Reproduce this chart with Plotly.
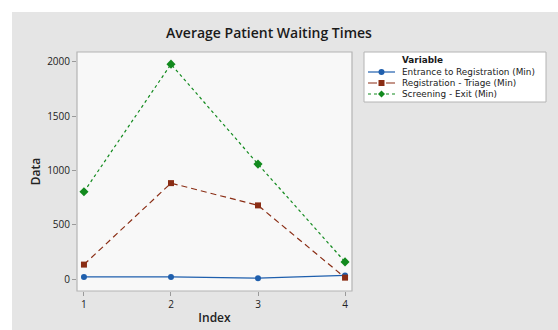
import plotly.graph_objects as go

# Waiting-time data per index
index = [1, 2, 3, 4]
entrance_to_registration = [22, 22, 10, 35]
registration_triage = [135, 885, 680, 15]
screening_exit = [805, 1980, 1060, 160]

series_names = [
    "Entrance to Registration (Min)",
    "Registration - Triage (Min)",
    "Screening - Exit (Min)",
]
y_ticks = [0, 500, 1000, 1500, 2000]

BLUE = "#1f5fad"
BROWN = "#8a2d14"
GREEN = "#128a1e"
FONT = "Open Sans"
LEGEND_FONT = "DejaVu Sans"

W, H = 558, 330
L, R, T, B = 77, 206, 52, 39
PW, PH = W - L - R, H - T - B


def px(x):
    """Horizontal pixel position -> paper coordinate."""
    return (x - L) / PW


def py(y):
    """Vertical pixel position (from top) -> paper coordinate."""
    return (H - B - y) / PH


styles = [
    dict(color=BLUE, dash="solid", legend_dash="solid", symbol="circle", size=6),
    dict(color=BROWN, dash="6px,4px", legend_dash="dash", symbol="square", size=6),
    dict(color=GREEN, dash="3px,3px", legend_dash="dot", symbol="diamond", size=7),
]
values = [entrance_to_registration, registration_triage, screening_exit]

fig = go.Figure()
for name, vals, st in zip(series_names, values, styles):
    fig.add_trace(go.Scatter(
        x=index, y=vals, name=name, mode="lines+markers",
        line=dict(color=st["color"], width=1.2, dash=st["dash"]),
        marker=dict(symbol=st["symbol"], size=st["size"], color=st["color"]),
        showlegend=False,
    ))

# grey outer frame and the light plot panel
fig.add_shape(type="rect", xref="paper", yref="paper",
              x0=px(12), x1=px(W + 20), y0=py(H + 20), y1=py(12),
              fillcolor="#e5e5e5", line=dict(width=0), layer="below")
fig.add_shape(type="rect", xref="paper", yref="paper",
              x0=0, x1=1, y0=0, y1=1,
              fillcolor="#f8f8f8", line=dict(color="#b4b4b4", width=1.2),
              layer="below")

# compact legend box
fig.add_shape(type="rect", xref="paper", yref="paper",
              x0=px(364), x1=px(546), y0=py(102), y1=py(52),
              fillcolor="white", line=dict(color="#b4b4b4", width=1),
              layer="below")
fig.add_annotation(xref="paper", yref="paper", x=px(401), y=py(60.5),
                   xanchor="left", yanchor="middle", showarrow=False,
                   borderpad=0, text="Variable",
                   font=dict(size=8.85, family=LEGEND_FONT, color="#1a1a1a",
                             weight="bold"))
for i, (name, st) in enumerate(zip(series_names, styles)):
    yc = 72 + 11 * i
    fig.add_shape(type="line", xref="paper", yref="paper",
                  x0=px(368), x1=px(395), y0=py(yc), y1=py(yc),
                  line=dict(color=st["color"], width=1.2, dash=st["legend_dash"]))
    cx, s = 381.5, st["size"] / 2
    if st["symbol"] == "circle":
        fig.add_shape(type="circle", xref="paper", yref="paper",
                      x0=px(cx - s), x1=px(cx + s), y0=py(yc + s), y1=py(yc - s),
                      fillcolor=st["color"], line=dict(width=0))
    elif st["symbol"] == "square":
        fig.add_shape(type="rect", xref="paper", yref="paper",
                      x0=px(cx - s), x1=px(cx + s), y0=py(yc + s), y1=py(yc - s),
                      fillcolor=st["color"], line=dict(width=0))
    else:
        path = (f"M {px(cx - s)} {py(yc)} L {px(cx)} {py(yc - s)} "
                f"L {px(cx + s)} {py(yc)} L {px(cx)} {py(yc + s)} Z")
        fig.add_shape(type="path", xref="paper", yref="paper", path=path,
                      fillcolor=st["color"], line=dict(width=0))
    fig.add_annotation(xref="paper", yref="paper", x=px(401), y=py(yc),
                       xanchor="left", yanchor="middle", showarrow=False,
                       borderpad=0, text=name,
                       font=dict(size=8.85, family=LEGEND_FONT, color="#1a1a1a"))

fig.update_layout(
    width=W, height=H,
    margin=dict(l=L, r=R, t=T, b=B),
    paper_bgcolor="white",
    plot_bgcolor="rgba(0,0,0,0)",
    font=dict(family=FONT, color="#222222"),
    title=dict(text="Average Patient Waiting Times",
               x=269 / W, xref="container", xanchor="center",
               y=1 - 33 / H, yref="container", yanchor="middle",
               font=dict(size=14, color="#1a1a1a", family=FONT, weight=600)),
    showlegend=False,
    xaxis=dict(
        range=[0.92, 4.08], tickvals=index, ticktext=[str(v) for v in index],
        showgrid=False, zeroline=False, showline=False, automargin=False,
        ticks="outside", ticklen=4, tickcolor="#9a9a9a",
        tickfont=dict(size=10, color="#222222"),
        title=dict(text="Index", font=dict(size=12, weight=600), standoff=3),
    ),
    yaxis=dict(
        range=[-108, 2092], tickvals=y_ticks,
        showgrid=False, zeroline=False, showline=False, automargin=False,
        ticks="outside", ticklen=4, tickcolor="#9a9a9a",
        tickfont=dict(size=10, color="#222222"),
        title=dict(text="Data", font=dict(size=12, weight=600), standoff=3),
    ),
)

fig.write_html("out.html")
